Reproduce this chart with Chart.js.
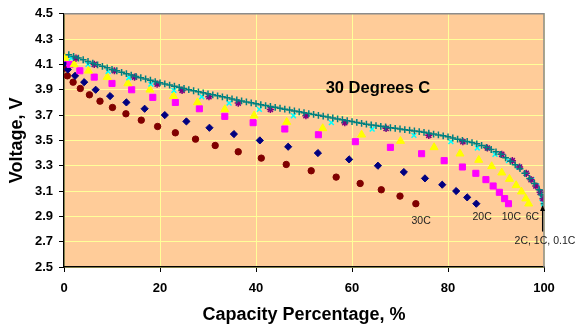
<!DOCTYPE html>
<html>
<head>
<meta charset="utf-8">
<script src="https://cdn.jsdelivr.net/npm/chart.js@4/dist/chart.umd.min.js"></script>
<style>
  html, body { margin: 0; padding: 0; background: #fff; }
</style>
</head>
<body>
<canvas id="chart_main" width="577" height="330"></canvas>
<script>
"use strict";

// データ　(容量 % / 電圧 V)
const cap_30C  = [0, 0.7, 1.9, 3.4, 5.3, 7.5, 10.1, 12.9, 16.1, 19.5, 23.2, 27.4, 31.5, 36.3, 41.1, 46.3, 51.5, 56.7, 61.7, 66.1, 70.0, 73.3];
const volt_30C = [4.07, 4.01, 3.96, 3.91, 3.86, 3.81, 3.76, 3.71, 3.66, 3.61, 3.56, 3.51, 3.46, 3.41, 3.36, 3.31, 3.26, 3.21, 3.16, 3.11, 3.06, 3.00];

const cap_20C  = [0, 0.8, 2.3, 4.2, 6.6, 9.6, 13.0, 16.8, 21.0, 25.5, 30.3, 35.4, 40.8, 46.7, 52.9, 59.4, 65.4, 70.8, 75.2, 78.8, 81.7, 84.0, 85.9];
const volt_20C = [4.11, 4.06, 4.01, 3.96, 3.90, 3.85, 3.80, 3.75, 3.70, 3.65, 3.60, 3.55, 3.50, 3.45, 3.40, 3.35, 3.30, 3.25, 3.20, 3.15, 3.10, 3.05, 3.00];

const cap_10C  = [0, 1.25, 3.3, 6.3, 10.0, 14.1, 18.5, 23.2, 28.2, 33.5, 39.4, 46.0, 53.0, 60.7, 68.0, 74.5, 79.2, 83.0, 85.8, 87.9, 89.4, 90.7, 91.8, 92.6];
const volt_10C = [4.15, 4.10, 4.05, 4.00, 3.95, 3.90, 3.84, 3.80, 3.75, 3.69, 3.64, 3.59, 3.545, 3.49, 3.445, 3.395, 3.34, 3.29, 3.24, 3.19, 3.14, 3.09, 3.04, 3.00];

const cap_6C   = [0.3, 2.1, 5.1, 9.0, 13.3, 17.9, 22.8, 27.8, 33.5, 39.6, 46.4, 53.9, 62.0, 70.1, 77.1, 82.5, 86.4, 89.1, 91.2, 92.8, 94.2, 95.3, 96.2, 96.8];
const volt_6C  = [4.15, 4.10, 4.05, 4.00, 3.95, 3.90, 3.85, 3.80, 3.745, 3.695, 3.645, 3.595, 3.545, 3.495, 3.445, 3.395, 3.345, 3.295, 3.245, 3.195, 3.145, 3.095, 3.04, 3.00];

const cap_2C   = [1.5, 5.0, 9.2, 13.5, 18.1, 22.9, 28.7, 34.4, 40.7, 47.8, 55.7, 64.2, 72.9, 80.6, 86.1, 89.8, 92.6, 94.7, 96.3, 97.5, 98.5, 99.2, 99.6, 99.9];
const volt_2C  = [4.15, 4.10, 4.045, 3.995, 3.945, 3.895, 3.845, 3.795, 3.745, 3.695, 3.64, 3.59, 3.54, 3.49, 3.44, 3.39, 3.34, 3.29, 3.24, 3.19, 3.14, 3.09, 3.04, 3.00];

const cap_1C   = [2.5, 6.3, 10.5, 14.7, 19.4, 24.6, 30.2, 36.3, 43.0, 50.4, 58.5, 67.1, 76.0, 83.1, 88.2, 91.2, 93.4, 94.9, 96.3, 97.3, 98.3, 99.2, 99.8];
const volt_1C  = [4.15, 4.10, 4.05, 4.00, 3.945, 3.895, 3.845, 3.795, 3.745, 3.695, 3.64, 3.595, 3.54, 3.49, 3.44, 3.39, 3.34, 3.29, 3.24, 3.19, 3.14, 3.09, 3.04];

const cap_01C  = [1, 2, 3, 4, 5, 6, 7, 8, 9, 10, 11, 12, 13, 14, 15, 16, 17, 18, 19, 20,
                  21, 22, 23, 24, 25, 26, 27, 28, 29, 30, 31, 32, 33, 34, 35, 36, 37, 38, 39, 40,
                  41, 42, 43, 44, 45, 46, 47, 48, 49, 50, 51, 52, 53, 54, 55, 56, 57, 58, 59, 60,
                  61, 62, 63, 64, 65, 66, 67, 68, 69, 70, 71, 72, 73, 74, 75, 76, 77, 78, 79, 80,
                  81, 82, 83, 84, 85, 86, 87, 88, 89, 90, 91, 92, 93, 94, 95, 96, 97, 98, 99, 99.5, 100];
const volt_01C = [4.177, 4.163, 4.150, 4.137, 4.124, 4.110, 4.097, 4.085, 4.073, 4.061, 4.050, 4.038, 4.027, 4.016, 4.005, 3.995, 3.985, 3.975, 3.965, 3.955,
                  3.946, 3.937, 3.928, 3.919, 3.910, 3.901, 3.892, 3.884, 3.876, 3.868, 3.860, 3.852, 3.844, 3.836, 3.828, 3.820, 3.812, 3.804, 3.797, 3.790,
                  3.782, 3.775, 3.768, 3.761, 3.754, 3.747, 3.740, 3.733, 3.726, 3.719, 3.712, 3.705, 3.698, 3.691, 3.684, 3.677, 3.670, 3.663, 3.656, 3.649,
                  3.642, 3.635, 3.628, 3.622, 3.617, 3.611, 3.606, 3.600, 3.595, 3.590, 3.585, 3.580, 3.575, 3.570, 3.564, 3.557, 3.550, 3.543, 3.536, 3.528,
                  3.519, 3.510, 3.500, 3.492, 3.483, 3.473, 3.460, 3.445, 3.428, 3.410, 3.390, 3.362, 3.335, 3.307, 3.277, 3.240, 3.200, 3.160, 3.110, 3.070, 3.000];

const rate_Na  = ['30C', '20C', '10C', '6C', '2C', '1C', '0.1C'];
const rate_Co  = ['#800000', '#000080', '#FF00FF', '#FFFF00', '#00FFFF', '#800080', '#008080'];
const rate_St  = ['circle', 'rectRot', 'rect', 'triangle', 'crossRot', 'star', 'cross'];
const rate_Ra  = [3.2, 3.6, 4.3, 4.6, 3.4, 3.6, 3.4];

const x_Ticks  = [0, 20, 40, 60, 80, 100];
const y_Ticks  = [2.5, 2.7, 2.9, 3.1, 3.3, 3.5, 3.7, 3.9, 4.1, 4.3, 4.5];

const all_Cap  = [cap_30C, cap_20C, cap_10C, cap_6C, cap_2C, cap_1C, cap_01C];
const all_Volt = [volt_30C, volt_20C, volt_10C, volt_6C, volt_2C, volt_1C, volt_01C];

const FONT = "'Liberation Sans', Arial, sans-serif";

const datasets = [];
for (let c = 0; c < rate_Na.length; c++) {
    const pts = all_Cap[c].map((x, i) => ({ x: x, y: all_Volt[c][i] }));
    const lineStyle = ['crossRot', 'star', 'cross'].includes(rate_St[c]);
    datasets.push({
        label: rate_Na[c],
        data: pts,
        pointStyle: rate_St[c],
        pointRadius: rate_Ra[c],
        pointBackgroundColor: rate_Co[c],
        pointBorderColor: rate_Co[c],
        pointBorderWidth: lineStyle ? 1.5 : 1,
        showLine: false,
    });
}
// 重なり順: 上の曲線を後から
datasets.reverse();

// 背景・枠・注記
const deco = {
    id: 'deco',
    beforeDraw(chart) {
        const { ctx, chartArea: a } = chart;
        ctx.save();
        ctx.fillStyle = '#fff';
        ctx.fillRect(0, 0, chart.width, chart.height);
        ctx.fillStyle = '#FFCC99';
        ctx.fillRect(a.left, a.top, a.right - a.left, a.bottom - a.top);
        ctx.restore();
    },
    afterDraw(chart) {
        const { ctx, chartArea: a, scales: { x, y } } = chart;
        ctx.save();
        // 枠 (上・右)
        ctx.strokeStyle = '#8c8c8c';
        ctx.lineWidth = 1.5;
        ctx.beginPath();
        ctx.moveTo(a.left, a.top);
        ctx.lineTo(a.right, a.top);
        ctx.lineTo(a.right, a.bottom);
        ctx.stroke();

        ctx.textAlign = 'center';
        ctx.textBaseline = 'middle';
        ctx.fillStyle = '#000';
        ctx.font = 'bold 16.5px ' + FONT;
        ctx.fillText('30 Degrees C', x.getPixelForValue(65.4), y.getPixelForValue(3.91));

        ctx.fillStyle = '#222';
        ctx.font = '10.5px ' + FONT;
        ctx.fillText('30C', x.getPixelForValue(74.4), y.getPixelForValue(2.862));
        ctx.fillText('20C', x.getPixelForValue(87.1), y.getPixelForValue(2.896));
        ctx.fillText('10C', x.getPixelForValue(93.2), y.getPixelForValue(2.896));
        ctx.fillText('6C', x.getPixelForValue(97.6), y.getPixelForValue(2.896));
        ctx.fillText('2C, 1C, 0.1C', x.getPixelForValue(100.2), y.getPixelForValue(2.705));

        // 矢印
        const ax = x.getPixelForValue(99.7),
              y0 = y.getPixelForValue(2.78),
              y1 = y.getPixelForValue(2.99);
        ctx.strokeStyle = '#000';
        ctx.lineWidth = 1.2;
        ctx.beginPath();
        ctx.moveTo(ax, y0);
        ctx.lineTo(ax, y1 + 4);
        ctx.stroke();
        ctx.fillStyle = '#000';
        ctx.beginPath();
        ctx.moveTo(ax, y1);
        ctx.lineTo(ax - 2.5, y1 + 6);
        ctx.lineTo(ax + 2.5, y1 + 6);
        ctx.closePath();
        ctx.fill();
        ctx.restore();
    }
};

var ctx = document.getElementById('chart_main');
let chart = new Chart(ctx, {
    type: 'scatter',
    data: { datasets: datasets },
    options: {
        responsive: false,
        animation: false,
        layout: { padding: { left: 0, top: 13, right: 33, bottom: 0 } },
        plugins: {
            legend: { display: false },
            tooltip: { enabled: false },
        },
        scales: {
            x: {
                type: 'linear',
                min: x_Ticks[0],
                max: x_Ticks[x_Ticks.length - 1],
                afterBuildTicks: s => { s.ticks = x_Ticks.map(v => ({ value: v })); },
                afterFit: s => { s.height = 63; },
                ticks: {
                    color: '#000',
                    padding: 9,
                    font: { family: FONT, size: 13, weight: 'bold' },
                },
                grid: { color: '#FFFF99', lineWidth: 1, tickLength: 5, tickColor: '#000' },
                border: { color: '#000', width: 1.5 },
                title: {
                    display: true,
                    text: 'Capacity Percentage, %',
                    color: '#000',
                    font: { family: FONT, size: 18, weight: 'bold' },
                    padding: { top: 0, bottom: 4 },
                },
            },
            y: {
                type: 'linear',
                min: y_Ticks[0],
                max: y_Ticks[y_Ticks.length - 1],
                afterBuildTicks: s => { s.ticks = y_Ticks.map(v => ({ value: v })); },
                afterFit: s => { s.width = 64; },
                ticks: {
                    color: '#000',
                    padding: 6,
                    font: { family: FONT, size: 13, weight: 'bold' },
                    callback: v => Number(v).toFixed(1),
                },
                grid: { color: '#FFFF99', lineWidth: 1, tickLength: 5, tickColor: '#000' },
                border: { color: '#000', width: 1.5 },
                title: {
                    display: true,
                    text: 'Voltage, V',
                    color: '#000',
                    font: { family: FONT, size: 18, weight: 'bold' },
                    padding: { top: 6, bottom: 0 },
                },
            },
        },
    },
    plugins: [deco],
});
</script>
</body>
</html>
